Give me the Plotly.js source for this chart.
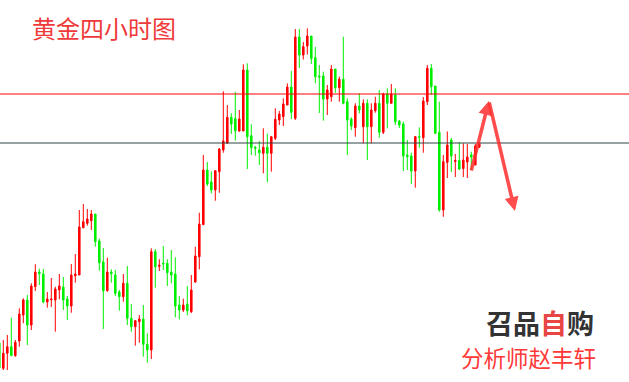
<!DOCTYPE html>
<html>
<head>
<meta charset="utf-8">
<script src="https://cdn.plot.ly/plotly-3.0.1.min.js"></script>
<style>html,body{margin:0;padding:0;background:#fff;}#chart{width:629px;height:382px;}</style>
</head>
<body>
<div id="chart"></div>
<script>
// Candle values (price units; no axis labels in the source)
const openVals = [57,31.7,46.7,53.3,44.3,59,85,100,75,113.3,
  128,126,98,100.3,100,110,113,101,94,124.3,
  125,172.3,176.7,179.3,186,159,138,109.3,128,125,
  108,103.3,116.7,81.7,73.3,78.3,81,55.7,50,148.3,
  133.7,136.7,136.7,128,126,95,90,96,88.3,118,
  143.3,175.3,230,218,210,228.3,250,256.7,282.7,281.3,
  269,269,330,264.3,252.7,250,246.7,252.7,246.7,261.7,
  280,283.3,295,313,281.7,363,345,354,364,342.3,
  324,324,301,303.3,331,312.3,320.7,298.3,281,272.3,
  294,273.3,296.7,273.3,289.3,296.7,267.7,306,296.7,305,
  279,276,245,244,229,263.3,262.3,298.3,331.7,314,
  267.7,190,237.7,260,238.5,239.5,231.5,238,245,235,253];
const highVals = [60,60,65,82.3,60,91.7,101.7,105,116.7,135.7,
  131.3,131,108,122,113.3,126,123,104,136,146,
  190,196,191,190,186,161.3,152,142.3,130.7,130,
  110,126,134,96,80,85,95,66.7,151.7,151,
  140.7,154,140.7,150,142.7,104,101.3,114,125,153.3,
  187.3,245,238,228.7,230,252,308.7,295,286.7,308.3,
  290,335.7,336.7,275.7,254,259,271.7,266.3,263.3,291.7,
  289,301.7,316.7,329,371,371,358,371.7,364,353,
  335,328.3,315,335,331,323.3,363.3,301.7,282.7,296.7,
  306.7,300.7,300.7,296.7,303.3,310,307.3,311.7,316,311.7,
  280,278.3,260,247.3,264,272.7,303,335,336,314,
  298.3,245,268.5,262,246,258,256.7,256,248.3,256,258];
const lowVals = [30,30,30,44.3,43.3,53.3,76.7,55,70,109,
  115,96.7,92.3,93,68.3,100.7,90,80,87.3,117.3,
  125,171.7,174.3,170,153.3,129.3,71,108.3,117.3,104,
  89.3,98.3,75,68.3,54.3,57.3,43.3,37.3,41,112.3,
  129,130,114,116.7,82.7,80.7,88,84.7,87,117.3,
  130.7,175.3,214,206.7,199.3,207.3,247.3,256.7,266,259.3,
  268.3,269,231,245,244.3,235,226.7,217.7,228.3,260,
  275,274,295,281,280,332,340.5,345.5,336,316.7,
  287,279.3,285,298.3,307.3,298.3,295.7,245,270,263.3,
  286.7,256.7,240,256.7,287.3,262.3,266,271.7,296.7,275,
  272,229,230,216,212.3,252.3,247.3,295,305,266,
  188.3,183.3,222,228,223,230,223,222,230,235,252];
const closeVals = [32,46.7,53.3,44.3,57.7,86,100,75,114,128,
  126.3,98,101,101,111,114,100,94,125,126,
  173,178.3,181,186,158.3,137.3,109.3,128,126.3,106.7,
  103.3,116.7,81.7,73.3,79.3,81,55.7,50,148.3,133.3,
  134.7,136,127.3,125,94,90,95,89.3,110,144,
  176,230,216,210,229.3,251,259,282.7,276,269.3,
  281,330,263.3,252.3,251.7,247.3,252.7,246.7,263.3,280.7,
  286,296,313,287.7,363,345,353.3,364,341.5,323.3,
  323,301,310,331,312.3,320.7,296.7,280,274,294,
  290,296.7,273.3,290,296.7,267.7,306,296.7,306,278.3,
  275,244,243.3,229,263.3,262.7,299,331.7,313.3,266.7,
  190,238.3,255,244,239.5,231,240,243,243,254,256.7];
// Horizontal levels drawn on the chart (resistance red, support dark)
const levels = [306, 257];
// Forecast arrow path: [bar index, price] for start, peak, end
const forecastX = [117.9, 122.4, 128.9];
const forecastY = [228, 299, 189];

const barIdx = openVals.map((_, i) => i);

const trace = {
  type: 'candlestick',
  x: barIdx,
  open: openVals, high: highVals, low: lowVals, close: closeVals,
  increasing: {line: {color: '#ff0000', width: 1}, fillcolor: '#ff0000'},
  decreasing: {line: {color: '#00ee00', width: 1}, fillcolor: '#00ee00'},
  whiskerwidth: 0,
  hoverinfo: 'skip'
};

const arrowColor = 'rgba(255,45,45,0.85)';
const layout = {
  width: 629, height: 382,
  margin: {l: 0, r: 0, t: 0, b: 0, pad: 0},
  paper_bgcolor: '#ffffff', plot_bgcolor: '#ffffff',
  showlegend: false,
  boxgap: 0.45,
  title: {text: '黄金四小时图', x: 32/629, xanchor: 'left', y: 1 - 30/382, yanchor: 'middle',
          font: {family: 'Noto Sans CJK SC, sans-serif', size: 24, color: '#ee3a3a'}},
  xaxis: {range: [0.175, 157.425], showgrid: false, zeroline: false, showticklabels: false,
          ticks: '', showline: false, rangeslider: {visible: false}, fixedrange: true},
  yaxis: {range: [18, 400], showgrid: false, zeroline: false, showticklabels: false,
          ticks: '', showline: false, fixedrange: true},
  shapes: [
    {type: 'line', xref: 'paper', x0: 0, x1: 1, yref: 'y', y0: levels[0], y1: levels[0],
     line: {color: '#ff0000', width: 1}},
    {type: 'line', xref: 'paper', x0: 0, x1: 1, yref: 'y', y0: levels[1], y1: levels[1],
     line: {color: '#2f4646', width: 1.2}}
  ],
  annotations: [
    {x: forecastX[1], y: forecastY[1], ax: forecastX[0], ay: forecastY[0], axref: 'x', ayref: 'y',
     xref: 'x', yref: 'y', showarrow: true, arrowhead: 2, arrowsize: 0.8, arrowwidth: 3.5,
     arrowcolor: arrowColor, text: ''},
    {x: forecastX[2], y: forecastY[2], ax: forecastX[1], ay: forecastY[1], axref: 'x', ayref: 'y',
     xref: 'x', yref: 'y', showarrow: true, arrowhead: 2, arrowsize: 0.8, arrowwidth: 3.5,
     arrowcolor: arrowColor, text: ''},
    {x: 540/629, y: 1 - 322/382, xref: 'paper', yref: 'paper', xanchor: 'center', yanchor: 'middle',
     showarrow: false, borderpad: 0,
     text: '<b><span style="color:#333333">召品</span><span style="color:#e84545">自</span><span style="color:#333333">购</span></b>',
     font: {family: 'Noto Sans CJK SC, sans-serif', size: 27, color: '#333333'}},
    {x: 528/629, y: 1 - 357/382, xref: 'paper', yref: 'paper', xanchor: 'center', yanchor: 'middle',
     showarrow: false, borderpad: 0,
     text: '分析师赵丰轩',
     font: {family: 'Noto Sans CJK SC, sans-serif', size: 22.5, color: '#ff3838'}}
  ]
};

Plotly.newPlot('chart', [trace], layout, {displayModeBar: false, staticPlot: true});
</script>
</body>
</html>
